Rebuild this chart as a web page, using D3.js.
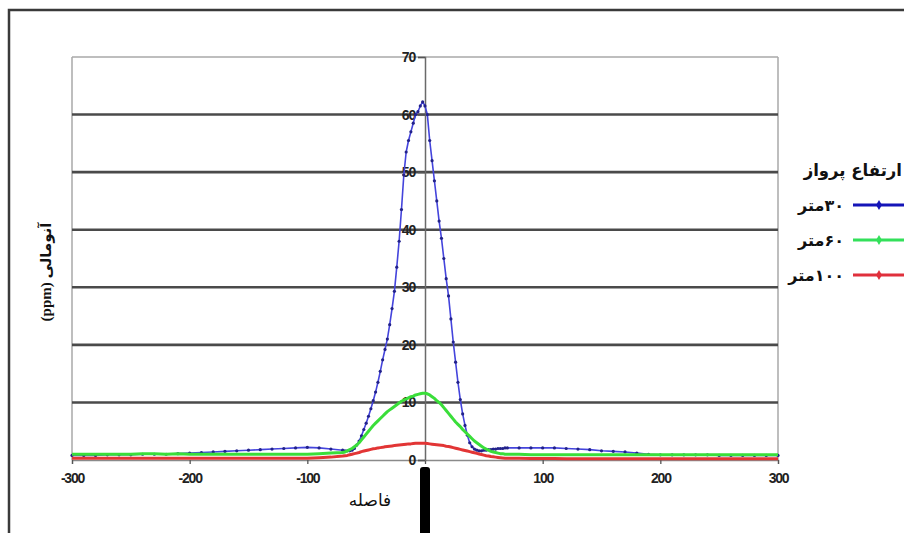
<!DOCTYPE html>
<html>
<head>
<meta charset="utf-8">
<script src="https://cdn.jsdelivr.net/npm/d3@7/dist/d3.min.js"></script>
<style>
  html, body { margin: 0; padding: 0; background: #fff; }
  svg { display: block; }
</style>
</head>
<body>
<svg id="chart" width="904" height="533"></svg>
<script>
// ---------------- DATA ----------------
const distances = [
  -300,-290,-280,-270,-260,-250,-240,-230,-220,-210,-200,-190,-180,-170,-160,-150,-140,-130,-120,-110,-100,-90,-80,
  -70,-68,-66,-64,-62,-60,-58,-56,-54,-52,-50,-48,-46,-44,-42,-40,-38,-36,-34,-32,-30,-28,-26,-24,-22,-20,-18,-16,-14,-12,-10,-8,-6,-4,-2,
  0,2,4,6,8,10,12,14,16,18,20,22,24,26,28,30,32,34,36,38,40,42,44,46,48,50,52,54,56,58,60,62,64,66,68,70,
  80,90,100,110,120,130,140,150,160,170,180,190,200,210,220,230,240,250,260,270,280,290,300
];

const alt30 = [
  0.8,0.8,0.8,0.9,0.9,0.9,1.0,1.0,1.0,1.1,1.2,1.3,1.4,1.5,1.6,1.7,1.8,1.9,2.0,2.1,2.2,2.1,1.9,
  1.7,1.6,1.6,1.6,1.7,2.0,2.6,3.3,4.2,5.3,6.4,7.6,8.9,10.3,11.8,13.5,15.4,17.4,19.2,21.0,23.5,26.3,29.3,33.5,38.0,43.5,49.5,53.5,55.5,57.0,58.5,60.0,60.5,61.5,62.2,
  61.5,60.0,55.5,52.0,48.5,45.0,41.5,38.5,35.0,31.5,28.5,24.5,20.5,17.0,13.5,10.5,8.0,6.0,4.3,3.0,2.3,1.9,1.7,1.6,1.6,1.7,1.7,1.8,1.8,1.9,1.9,2.0,2.0,2.0,2.1,2.1,
  2.1,2.1,2.1,2.1,2.0,1.9,1.8,1.6,1.5,1.4,1.2,1.0,0.9,0.9,0.9,0.9,0.9,0.8,0.8,0.8,0.8,0.8,0.8
];

const alt60 = [
  1.0,1.0,1.0,1.0,1.0,1.0,1.1,1.1,1.0,1.1,1.0,1.0,1.0,1.0,1.0,1.0,1.0,1.0,1.0,1.0,1.0,1.1,1.2,
  1.3,1.4,1.6,1.8,2.0,2.3,2.6,3.0,3.5,4.0,4.5,5.0,5.5,6.0,6.4,6.8,7.2,7.6,8.0,8.4,8.7,9.0,9.3,9.6,9.9,10.2,10.4,10.6,10.8,11.0,11.1,11.3,11.4,11.5,11.6,
  11.6,11.5,11.3,11.0,10.7,10.3,10.0,9.6,9.1,8.6,8.1,7.6,7.1,6.6,6.2,5.8,5.3,4.9,4.5,4.1,3.7,3.3,3.0,2.7,2.4,2.1,1.9,1.7,1.5,1.4,1.3,1.2,1.1,1.1,1.0,1.0,
  1.0,0.9,0.9,0.9,0.9,0.9,0.9,0.9,0.9,0.9,0.9,0.9,0.9,0.9,0.9,0.9,0.9,0.9,0.9,0.9,0.9,0.9,0.9
];

const alt100 = [
  0.3,0.3,0.3,0.3,0.3,0.3,0.3,0.3,0.3,0.3,0.3,0.3,0.3,0.3,0.3,0.3,0.3,0.3,0.3,0.3,0.3,0.4,0.5,
  0.7,0.75,0.8,0.9,1.0,1.1,1.2,1.3,1.45,1.55,1.65,1.75,1.85,1.95,2.0,2.1,2.15,2.2,2.3,2.35,2.4,2.45,2.5,2.55,2.6,2.65,2.7,2.75,2.8,2.8,2.85,2.9,2.9,2.9,2.9,
  2.9,2.85,2.8,2.75,2.7,2.65,2.6,2.55,2.5,2.4,2.35,2.25,2.15,2.05,1.95,1.85,1.75,1.65,1.55,1.45,1.35,1.25,1.15,1.05,0.95,0.85,0.75,0.7,0.6,0.55,0.5,0.45,0.4,0.35,0.3,0.3,
  0.3,0.25,0.25,0.25,0.2,0.2,0.2,0.2,0.2,0.2,0.2,0.2,0.2,0.2,0.2,0.2,0.2,0.2,0.2,0.2,0.2,0.2,0.2
];

const seriesNames = ["۳۰متر", "۶۰متر", "۱۰۰متر"];
const seriesColors = ["#4444dc", "#3ade3a", "#e23535"];
const legendColors = ["#1515b8", "#33e05a", "#e0303c"];
const xTicks = [-300, -200, -100, 0, 100, 200, 300];
const xTickLabels = ["-300", "-200", "-100", "", "100", "200", "300"];
const yTicks = [0, 10, 20, 30, 40, 50, 60, 70];
const legendTitle = "ارتفاع پرواز";
const xTitle = "فاصله";
const yTitle = "آنومالی (ppm)";

// ---------------- LAYOUT ----------------
const svg = d3.select("#chart");
const plot = { left: 72, right: 778, top: 57, bottom: 460 };

const x = d3.scaleLinear().domain([-300, 300]).range([plot.left, plot.right]);
const y = d3.scaleLinear().domain([0, 70]).range([plot.bottom, plot.top]);

svg.append("rect").attr("width", 904).attr("height", 533).attr("fill", "#fff");

// outer frame
svg.append("path")
  .attr("d", "M9,533 V10 H904")
  .attr("fill", "none").attr("stroke", "#3a3a3a").attr("stroke-width", 2.5);

// plot borders (left/right light grey)
svg.append("line").attr("x1", plot.left).attr("x2", plot.left).attr("y1", plot.top).attr("y2", plot.bottom)
  .attr("stroke", "#a8a8a8").attr("stroke-width", 1.5);
svg.append("line").attr("x1", plot.right).attr("x2", plot.right).attr("y1", plot.top).attr("y2", plot.bottom)
  .attr("stroke", "#a8a8a8").attr("stroke-width", 1.5);

// gridlines
svg.append("g").selectAll("line").data(yTicks.filter(d => d > 0)).join("line")
  .attr("x1", plot.left).attr("x2", plot.right)
  .attr("y1", d => y(d)).attr("y2", d => y(d))
  .attr("stroke", d => d === 70 ? "#a8a8a8" : "#4a4a4a")
  .attr("stroke-width", d => d === 70 ? 1.5 : 2.6);

const tickFont = sel => sel
  .attr("font-family", "Liberation Sans, Arial, sans-serif")
  .attr("font-weight", "bold").attr("font-size", 14)
  .attr("letter-spacing", -1.2).attr("fill", "#222");

// x axis
const xAxis = svg.append("g")
  .attr("transform", `translate(0,${y(0)})`)
  .call(d3.axisBottom(x).tickValues(xTicks).tickSize(4).tickPadding(9)
    .tickFormat((d, i) => xTickLabels[i]));
xAxis.select(".domain").attr("stroke", "#8a8a8a").attr("stroke-width", 1.3);
xAxis.selectAll(".tick line").attr("stroke", "#555").attr("stroke-width", 1.3);
xAxis.selectAll(".tick text").call(tickFont);

// y axis at x = 0
const yAxis = svg.append("g")
  .attr("transform", `translate(${x(0)},0)`)
  .call(d3.axisLeft(y).tickValues(yTicks).tickSize(7).tickPadding(3));
yAxis.select(".domain").attr("stroke", "#6a6a6a").attr("stroke-width", 1.5);
yAxis.selectAll(".tick line").attr("stroke", "#555").attr("stroke-width", 1.3);
yAxis.selectAll(".tick text").call(tickFont);

// series
const seriesData = [alt30, alt60, alt100];
const line = d3.line().x((d, i) => x(distances[i])).y(d => y(d));
const widths = [1.6, 3, 3];

seriesData.forEach((vals, s) => {
  svg.append("path")
    .datum(vals)
    .attr("fill", "none")
    .attr("stroke", seriesColors[s])
    .attr("stroke-width", widths[s])
    .attr("stroke-linejoin", "round")
    .attr("d", line);
  if (s === 0) {
    svg.append("g").selectAll("circle").data(vals).join("circle")
      .attr("cx", (d, i) => x(distances[i]))
      .attr("cy", d => y(d))
      .attr("r", 1.6)
      .attr("fill", "#22228a");
  }
});

// black bar under the axis
svg.append("rect")
  .attr("x", x(0) - 5).attr("y", 467).attr("width", 10).attr("height", 70)
  .attr("rx", 3).attr("fill", "#000");

// axis titles
svg.append("text")
  .attr("x", 370).attr("y", 506)
  .attr("text-anchor", "middle")
  .attr("font-family", "DejaVu Sans, sans-serif")
  .attr("font-size", 17).attr("fill", "#111")
  .attr("direction", "rtl")
  .text(xTitle);

svg.append("text")
  .attr("transform", "translate(51,272) rotate(-90)")
  .attr("text-anchor", "middle")
  .attr("font-family", "Liberation Serif, DejaVu Sans, serif")
  .attr("font-weight", "bold")
  .attr("font-size", 15).attr("fill", "#111")
  .attr("direction", "rtl")
  .text(yTitle);

// legend
svg.append("text")
  .attr("x", 902).attr("y", 176)
  .attr("text-anchor", "start")
  .attr("direction", "rtl")
  .attr("font-family", "DejaVu Sans, sans-serif")
  .attr("font-weight", "bold")
  .attr("font-size", 16.5).attr("fill", "#111")
  .text(legendTitle);

const legendY = [205, 240, 275];
seriesNames.forEach((name, s) => {
  const g = svg.append("g");
  g.append("line")
    .attr("x1", 853).attr("x2", 904)
    .attr("y1", legendY[s]).attr("y2", legendY[s])
    .attr("stroke", legendColors[s]).attr("stroke-width", 3);
  g.append("path")
    .attr("d", d3.symbol(d3.symbolDiamond, 30)())
    .attr("transform", `translate(879,${legendY[s]})`)
    .attr("fill", legendColors[s]);
  g.append("text")
    .attr("x", 844).attr("y", legendY[s] + 6)
    .attr("text-anchor", "start")
    .attr("direction", "rtl")
    .attr("font-family", "DejaVu Sans, sans-serif")
    .attr("font-weight", "bold")
    .attr("font-size", 16).attr("fill", "#111")
    .text(name);
});
</script>
</body>
</html>
